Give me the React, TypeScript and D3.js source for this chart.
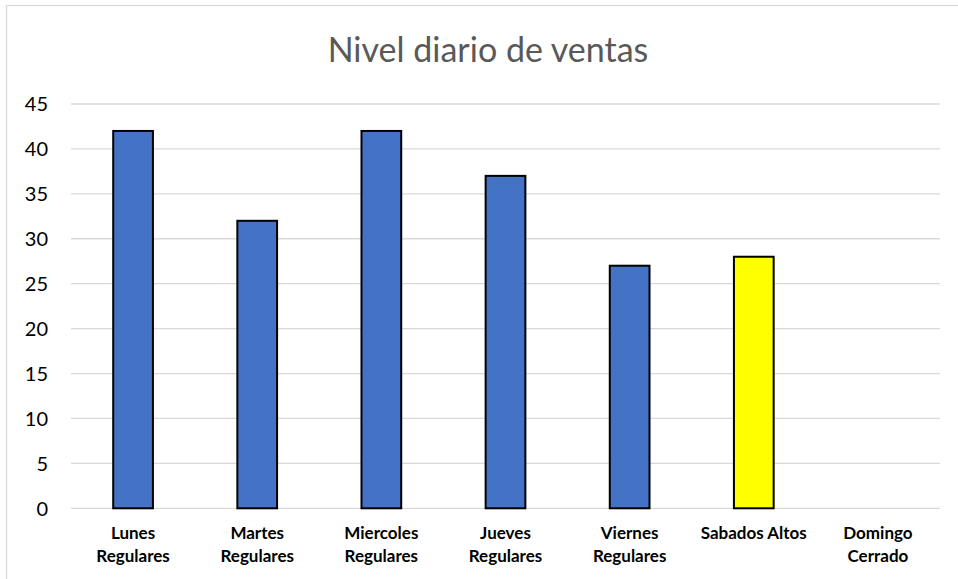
import React from "react";
import * as d3 from "d3";

const categories = ["Lunes Regulares", "Martes Regulares", "Miercoles Regulares", "Jueves Regulares", "Viernes Regulares", "Sabados Altos", "Domingo Cerrado"];
const categoryLines = [["Lunes", "Regulares"], ["Martes", "Regulares"], ["Miercoles", "Regulares"], ["Jueves", "Regulares"], ["Viernes", "Regulares"], ["Sabados Altos"], ["Domingo", "Cerrado"]];
const values = [42, 32, 42, 37, 27, 28, 0];
const barColors = ["#4472C4", "#4472C4", "#4472C4", "#4472C4", "#4472C4", "#FFFF00", "#4472C4"];
const yTicks = [0, 5, 10, 15, 20, 25, 30, 35, 40, 45];
const title = "Nivel diario de ventas";

const W = 958;
const H = 579;
const FONT = "Lato, 'Open Sans', sans-serif";

export default function App() {
  const x = d3.scaleBand<string>().domain(categories).range([71, 940]).paddingInner(0.68).paddingOuter(0.34);
  const y = d3.scaleLinear().domain([0, 45]).range([508.3, 104]);

  return (
    <svg width={W} height={H} style={{ position: "absolute", left: 0, top: 0, background: "#fff" }}>
      <rect x={6.5} y={5.5} width={1000} height={1000} fill="#fff" stroke="#d9d9d9" strokeWidth={1.3} />
      <text x={488} y={61.5} textAnchor="middle" fontFamily={FONT} fontSize={34} fill="#595959">{title}</text>
      {yTicks.map((t) => (
        <g key={t}>
          <line x1={71} x2={940} y1={y(t)} y2={y(t)} stroke="#d9d9d9" strokeWidth={1.3} />
          <text x={48} y={y(t)} dy="0.36em" textAnchor="end" fontFamily={FONT} fontSize={20} fill="#000">{t}</text>
        </g>
      ))}
      {categories.map((c, i) =>
        values[i] > 0 ? (
          <rect key={c} x={x(c)} y={y(values[i])} width={x.bandwidth()} height={y(0) - y(values[i])} fill={barColors[i]} stroke="#000" strokeWidth={2} />
        ) : null
      )}
      {categories.map((c, i) => (
        <text key={c + "l"} textAnchor="middle" fontFamily={FONT} fontWeight="bold" fontSize={17} fill="#000">
          {categoryLines[i].map((ln, j) => (
            <tspan key={j} x={(x(c) as number) + x.bandwidth() / 2} y={539 + j * 23}>{ln}</tspan>
          ))}
        </text>
      ))}
    </svg>
  );
}
